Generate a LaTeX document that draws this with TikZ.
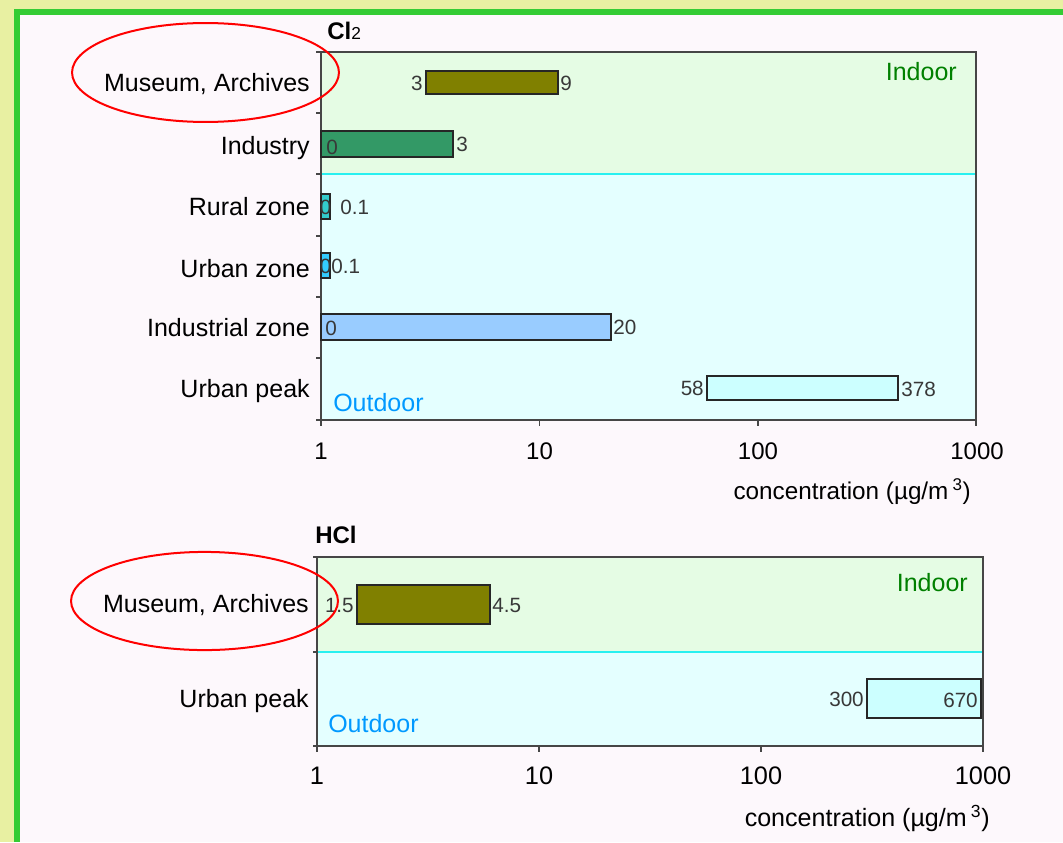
\documentclass[tikz,border=0pt]{standalone}
\usepackage{fontspec}
\setmainfont{Liberation Sans}
\definecolor{outerbg}{RGB}{232,240,162}
\definecolor{innerbg}{RGB}{253,248,252}
\definecolor{frame}{RGB}{52,204,52}
\definecolor{indoorbg}{RGB}{229,252,228}
\definecolor{outdoorbg}{RGB}{228,255,255}
\definecolor{sep}{RGB}{40,240,240}
\definecolor{olivebar}{RGB}{128,128,0}
\definecolor{indbar}{RGB}{51,153,102}
\definecolor{ruralbar}{RGB}{51,204,204}
\definecolor{urbanbar}{RGB}{51,204,255}
\definecolor{izonebar}{RGB}{153,204,255}
\definecolor{peakbar}{RGB}{204,255,255}
\definecolor{indoortxt}{RGB}{0,128,0}
\definecolor{outdoortxt}{RGB}{0,153,255}
\definecolor{axisgray}{RGB}{70,70,70}
\begin{document}
\begin{tikzpicture}[x=0.75pt,y=-0.75pt,
  cat/.style={anchor=base east,inner sep=0pt,font=\fontsize{18.75}{20}\selectfont},
  valw/.style={anchor=base west,inner sep=0pt,text=black!78,font=\fontsize{15.5}{17}\selectfont},
  vale/.style={anchor=base east,inner sep=0pt,text=black!78,font=\fontsize{15.5}{17}\selectfont},
  valc/.style={anchor=base,inner sep=0pt,text=black!78,font=\fontsize{15.5}{17}\selectfont},
  ticklab/.style={anchor=base,inner sep=0pt,font=\fontsize{18}{20}\selectfont},
  ticklabb/.style={anchor=base,inner sep=0pt,font=\fontsize{19}{21}\selectfont},
  conc/.style={anchor=base east,inner sep=0pt,font=\fontsize{18.2}{20}\selectfont},
  concb/.style={anchor=base east,inner sep=0pt,font=\fontsize{18.8}{20}\selectfont},
  indoor/.style={anchor=base east,inner sep=0pt,text=indoortxt,font=\fontsize{18.75}{20}\selectfont},
  outdoor/.style={anchor=base west,inner sep=0pt,text=outdoortxt,font=\fontsize{18.75}{20}\selectfont},
  title/.style={anchor=base west,inner sep=0pt,font=\fontsize{18}{20}\selectfont\bfseries},
  bar/.style={draw=black!85,line width=1.1pt},
  frameline/.style={draw=axisgray,line width=1.1pt},
  sepline/.style={draw=sep,line width=1.5pt},
  tickmark/.style={draw=axisgray,line width=0.9pt},
  oval/.style={draw=red,line width=1.5pt}]
\useasboundingbox (0,0) rectangle (1063,842);
% background and frame
\fill[outerbg] (0,0) rectangle (1063,842);
\fill[innerbg] (20,15) rectangle (1063,842);
\draw[frame,line width=4.5pt] (14,12) -- (1063,12);
\draw[frame,line width=4.5pt] (17,9) -- (17,842);

% ===== Cl2 chart =====
\fill[indoorbg] (321,52) rectangle (976,174);
\fill[outdoorbg] (321,174) rectangle (976,420);
\draw[sepline] (321,174) -- (976,174);
\draw[frameline] (321,52) rectangle (976,420);
\foreach \yy in {52,113,174,236,297,358,420} \draw[tickmark] (316,\yy) -- (321,\yy);
\foreach \xx in {321,539.5,758,976} \draw[tickmark] (\xx,420) -- (\xx,426);

\node[title] (t1) at (327,40) {Cl{\fontsize{13}{14}\selectfont\mdseries 2}};

\node[cat] (c1a) at (310,91) {Museum, Archives};
\node[cat] (c1b) at (310,154) {Industry};
\node[cat] (c1c) at (310,215) {Rural zone};
\node[cat] (c1d) at (310,277) {Urban zone};
\node[cat] (c1e) at (310,336) {Industrial zone};
\node[cat] (c1f) at (310,397) {Urban peak};

\draw[bar,fill=olivebar] (426,71) rectangle (558,94);
\draw[bar,fill=indbar] (321,131) rectangle (453,157);
\draw[bar,fill=ruralbar] (321,194) rectangle (330,219);
\draw[bar,fill=urbanbar] (321,253) rectangle (330,278);
\draw[bar,fill=izonebar] (321,314) rectangle (611,340);
\draw[bar,fill=peakbar] (707,376) rectangle (898,400);

\node[vale] (v1a) at (423,90) {3};
\node[valw] (v1b) at (560,90) {9};
\node[valw] (v1c) at (326,154) {0};
\node[valw] (v1d) at (456,151) {3};
\node[valc] (v1e) at (325.5,214) {0};
\node[valw] (v1f) at (340,214) {0.1};
\node[valc] (v1g) at (325.5,273) {0};
\node[valw] (v1h) at (331,273) {0.1};
\node[valw] (v1i) at (325,335) {0};
\node[valw] (v1j) at (613,334) {20};
\node[vale] (v1k) at (704,395) {58};
\node[valw] (v1l) at (901,396) {378};

\node[indoor] (in1) at (957,80) {Indoor};
\node[outdoor] (out1) at (333,411) {Outdoor};

\node[ticklab] (x1a) at (321,459) {1};
\node[ticklab] (x1b) at (539.5,459) {10};
\node[ticklab] (x1c) at (758,459) {100};
\node[ticklab] (x1d) at (977,459) {1000};
\node[conc] (cc1) at (971,499) {concentration (µg/m\,\textsuperscript{3})};

\draw[oval] (205.5,72.5) ellipse [x radius=100.1pt, y radius=37.1pt];

% ===== HCl chart =====
\fill[indoorbg] (317,557) rectangle (983,652);
\fill[outdoorbg] (317,652) rectangle (983,746);
\draw[sepline] (317,652) -- (983,652);
\draw[frameline] (317,557) rectangle (983,746);
\foreach \yy in {557,652,746} \draw[tickmark] (313,\yy) -- (317,\yy);
\foreach \xx in {317,539,761,983} \draw[tickmark] (\xx,746) -- (\xx,752);

\node[title] (t2) at (315,543) {HCl};

\node[cat] (c2a) at (309,612) {Museum, Archives};
\node[cat] (c2b) at (309,707) {Urban peak};

\draw[bar,fill=olivebar] (357,585) rectangle (490,624);
\draw[bar,fill=peakbar] (867,679) rectangle (981,718);

\node[vale] (v2a) at (354,612) {1.5};
\node[valw] (v2b) at (492,612) {4.5};
\node[vale] (v2c) at (864,706) {300};
\node[vale] (v2d) at (978,707) {670};

\node[indoor] (in2) at (968,591) {Indoor};
\node[outdoor] (out2) at (328,732) {Outdoor};

\node[ticklabb] (x2a) at (317,784) {1};
\node[ticklabb] (x2b) at (539,784) {10};
\node[ticklabb] (x2c) at (761,784) {100};
\node[ticklabb] (x2d) at (983,784) {1000};
\node[concb] (cc2) at (990,826) {concentration (µg/m\,\textsuperscript{3})};

\draw[oval] (204.5,601) ellipse [x radius=100.1pt, y radius=36.8pt];
\end{tikzpicture}
\end{document}
